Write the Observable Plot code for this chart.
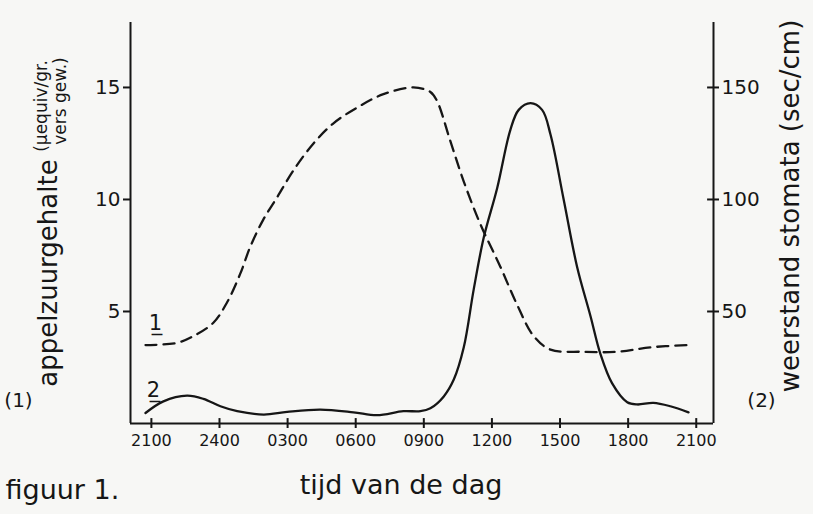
<!DOCTYPE html>
<html>
<head>
<meta charset="utf-8">
<script src="https://cdn.jsdelivr.net/npm/d3@7"></script>
<script src="https://cdn.jsdelivr.net/npm/@observablehq/plot@0.6"></script>
<style>
  html, body { margin: 0; padding: 0; background: #f7f7f5; }
</style>
</head>
<body>
<div id="chart"></div>
<script>
// Time axis: hours after 21:00
const tickHours = [0, 3, 6, 9, 12, 15, 18, 21, 24];
const tickLabels = ["2100", "2400", "0300", "0600", "0900", "1200", "1500", "1800", "2100"];

// (1) appelzuurgehalte (μequiv/gr. vers gew.) — dashed
const acidHours = [-0.26, 1.13, 1.85, 2.73, 3.33, 3.92, 4.36, 4.93, 5.54, 6.26, 7.14, 8.02, 9.06, 10.22, 11.54, 12.29, 12.58, 13.17, 13.76, 14.49, 15.37, 16.11, 16.84, 17.58, 19.03, 20.52, 21.98, 23.6];
const acidValues = [3.5, 3.6, 3.9, 4.5, 5.4, 6.7, 7.9, 9.1, 10.1, 11.3, 12.5, 13.4, 14.1, 14.7, 15.0, 14.8, 14.4, 12.6, 10.8, 8.9, 7.0, 5.3, 3.9, 3.3, 3.2, 3.2, 3.4, 3.5];

// (2) weerstand stomata (sec/cm) — solid
const stomHours = [-0.26, 0.53, 1.57, 2.29, 3.04, 3.78, 4.95, 5.98, 7.44, 8.9, 9.94, 11.1, 11.85, 12.29, 12.88, 13.32, 13.76, 14.2, 14.64, 15.23, 15.81, 16.18, 16.7, 17.21, 17.58, 18.16, 18.75, 19.34, 19.78, 20.29, 20.96, 21.4, 22.11, 22.86, 23.66];
const stomValues = [4.7, 9.9, 12.4, 11, 7.7, 5.5, 4.0, 5.2, 6.2, 5.0, 3.7, 5.5, 5.5, 6.8, 12.1, 19.6, 34, 60, 83, 105, 131, 140, 143, 140, 129, 100, 70, 48, 31, 18, 9.5, 8.5, 9.2, 7.7, 5.0];

const acid = acidHours.map((t, i) => ({t, v: acidValues[i]}));
const stom = stomHours.map((t, i) => ({t, v: stomValues[i]}));

const ink = "#161616";
const font = "DejaVu Sans";
const lbl = {textAnchor: "middle", lineAnchor: "middle", fill: ink};

const plot = Plot.plot({
  width: 813,
  height: 514,
  marginLeft: 130,
  marginRight: 100,
  marginTop: 22,
  marginBottom: 91,
  x: {domain: [-0.92, 24.76]},
  y: {domain: [0, 17.9]},
  style: {background: "#f7f7f5", fontFamily: font, color: ink, overflow: "visible"},
  marks: [
    // axis lines
    Plot.ruleX([-0.92, 24.76], {stroke: ink, strokeWidth: 2}),
    Plot.ruleY([0], {stroke: ink, strokeWidth: 2}),
    // upward parts of x ticks
    Plot.ruleX(tickHours, {x: d => d, y1: 0, y2: 0.22, stroke: ink, strokeWidth: 2}),
    Plot.axisX({ticks: tickHours, tickFormat: h => tickLabels[tickHours.indexOf(h)], tickSize: 5, tickPadding: 6, fontSize: 16, label: null, stroke: ink, strokeWidth: 2}),
    Plot.axisY({ticks: [5, 10, 15], tickFormat: d => String(d), tickSize: 7, tickPadding: 3, fontSize: 20, label: null, stroke: ink, strokeWidth: 2}),
    Plot.axisY({anchor: "right", ticks: [5, 10, 15], tickFormat: d => String(d * 10), tickSize: 5, tickPadding: 3, fontSize: 20, label: null, stroke: ink, strokeWidth: 2}),
    Plot.ruleY([5, 10, 15], {x1: 24.76, x2: 24.5, stroke: ink, strokeWidth: 2}),
    // curves
    Plot.line(acid, {x: "t", y: "v", stroke: ink, strokeWidth: 2.3, strokeDasharray: "11,7", curve: "catmull-rom"}),
    Plot.line(stom, {x: "t", y: d => d.v / 10, stroke: ink, strokeWidth: 2.3, curve: "catmull-rom"}),
    // curve numbers (underlined)
    Plot.text([acid[0]], {x: "t", y: "v", text: () => "1\u0332", dx: 10, dy: -22, fontSize: 21, fill: ink}),
    Plot.text([stom[0]], {x: "t", y: d => d.v / 10, text: () => "2\u0332", dx: 8, dy: -23, fontSize: 21, fill: ink}),
    // axis titles
    Plot.text(["appelzuurgehalte"], {...lbl, text: d => d, frameAnchor: "left", dx: -82, dy: 50, rotate: -90, fontSize: 26}),
    Plot.text(["(μequiv/gr."], {...lbl, text: d => d, frameAnchor: "left", dx: -89, dy: -117, rotate: -90, fontSize: 17}),
    Plot.text(["vers gew.)"], {...lbl, text: d => d, frameAnchor: "left", dx: -70, dy: -122, rotate: -90, fontSize: 17}),
    Plot.text(["(1)"], {...lbl, text: d => d, frameAnchor: "bottom-left", dx: -112, dy: -23, fontSize: 20}),
    Plot.text(["(2)"], {...lbl, text: d => d, frameAnchor: "bottom-right", dx: 48, dy: -23, fontSize: 20}),
    Plot.text(["weerstand stomata (sec/cm)"], {...lbl, text: d => d, frameAnchor: "right", dx: 77, dy: -17, rotate: -90, fontSize: 26}),
    Plot.text(["tijd van de dag"], {...lbl, text: d => d, frameAnchor: "bottom", dx: -21, dy: 62, fontSize: 27}),
    Plot.text(["figuur 1."], {...lbl, text: d => d, frameAnchor: "bottom-left", dx: -125, dy: 67, textAnchor: "start", fontSize: 27})
  ]
});

document.getElementById("chart").appendChild(plot);
</script>
</body>
</html>
